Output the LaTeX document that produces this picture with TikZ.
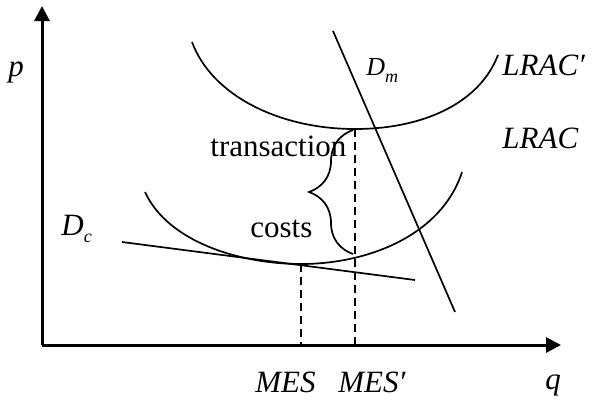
\documentclass[tikz,border=0pt]{standalone}
\usepackage{fontspec}
\setmainfont{Liberation Serif}
\usetikzlibrary{arrows.meta, decorations.pathreplacing}

\begin{document}
\begin{tikzpicture}[x=0.5pt, y=-0.5pt,
    axis/.style={line width=1.5pt, -{Triangle[length=7.5pt, width=7.5pt]}},
    curve/.style={line width=0.85pt},
    guide/.style={line width=0.85pt, dash pattern=on 4pt off 2.5pt},
    lbl/.style={font=\fontsize{15.5}{18}\selectfont\itshape, inner sep=0pt, anchor=base west},
    word/.style={font=\fontsize{15.5}{18}\selectfont, inner sep=0pt, anchor=base west}]
  \useasboundingbox (0,0) rectangle (592,402);
  % axes
  \coordinate (o) at (42,345);
  \coordinate (ptop) at (42,6);
  \coordinate (qend) at (561,345);
  \draw[axis] (o) -- (ptop);
  \draw[axis] (o) -- (qend);
  % long-run average cost curves
  \coordinate (mesB) at (355,129);
  \coordinate (mes) at (301,264);
  \draw[curve] (192,42) .. controls (212,96) and (280,129) .. (mesB)
    .. controls (425,129) and (480,102) .. (498,55);
  \draw[curve] (145,192) .. controls (168,242) and (240,264) .. (mes)
    .. controls (370,264) and (442,234) .. (462,172);
  % demand lines
  \coordinate (dm1) at (333,31);
  \coordinate (dm2) at (455,312);
  \coordinate (dc1) at (122,242);
  \coordinate (dc2) at (415,280);
  \draw[curve] (dm1) -- (dm2);
  \draw[curve] (dc1) -- (dc2);
  % minimum efficient scale
  \draw[guide] (mes) -- (mes |- o);
  \draw[guide] (mesB) -- (mesB |- o);
  \draw[curve, decorate, decoration={brace, amplitude=22pt}] (353,254) -- (353,130);
  % labels
  \node[lbl] (p) at (8,76) {p};
  \node[lbl] (q) at (545,389) {q};
  \node[lbl] (dm) at (366,75) {{\fontsize{13}{15}\selectfont D}\raisebox{-0.5ex}{\fontsize{9}{10}\selectfont m}};
  \node[lbl] (dc) at (61,235) {D\raisebox{-0.55ex}{\fontsize{9}{10}\selectfont c}};
  \node[lbl] (lracB) at (502,75) {LRAC′};
  \node[lbl] (lrac) at (502,148) {LRAC};
  \node[word] (tc1) at (210,156) {transaction};
  \node[word] (tc2) at (250,237) {costs};
  \node[lbl] (mesl) at (255,392) {MES};
  \node[lbl] (mesBl) at (338,392) {MES′};
\end{tikzpicture}
\end{document}
